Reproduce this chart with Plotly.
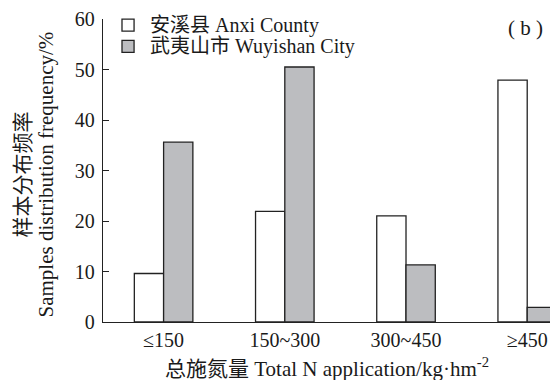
import plotly.graph_objects as go

# Nitrogen application classes (kg/hm²) and sample frequency (%) per region
categories = ["≤150", "150~300", "300~450", "≥450"]
anxi_freq = [9.6, 21.9, 21.0, 47.9]
wuyishan_freq = [35.6, 50.5, 11.3, 2.9]
series_names = ["安溪县 Anxi County", "武夷山市 Wuyishan City"]
series_fills = ["white", "#bcbdc0"]

FONT = "Liberation Serif, Times New Roman, Noto Sans CJK SC, serif"
LINE = "#222222"

fig = go.Figure()
for name, fill, vals in zip(series_names, series_fills, [anxi_freq, wuyishan_freq]):
    fig.add_trace(go.Bar(
        x=list(range(len(categories))), y=vals, name=name,
        marker=dict(color=fill, line=dict(color=LINE, width=1.3)),
        showlegend=False,
    ))

# Hand-placed legend: outlined squares with labels, top-left of the plot
legend_shapes = []
legend_notes = []
for i, (name, fill) in enumerate(zip(series_names, series_fills)):
    cy = 0.980 - i * 0.0705
    legend_shapes.append(dict(
        type="rect", xref="paper", yref="paper",
        x0=0.0425, x1=0.0695, y0=cy - 0.0198, y1=cy + 0.0198,
        fillcolor=fill, line=dict(color=LINE, width=1.3), layer="above",
    ))
    legend_notes.append(dict(
        text=name, xref="paper", yref="paper", x=0.1007, y=cy,
        xanchor="left", yanchor="middle", showarrow=False,
        font=dict(size=20),
    ))

fig.update_layout(
    width=550, height=380,
    margin=dict(l=103, r=0, t=19, b=58),
    paper_bgcolor="white", plot_bgcolor="white",
    font=dict(family=FONT, size=20, color="#1a1a1a"),
    barmode="group", bargap=0.517, bargroupgap=0,
    showlegend=False,
    xaxis=dict(
        range=[-0.5, 3.188],
        tickmode="array", tickvals=list(range(len(categories))), ticktext=categories,
        showline=True, linecolor=LINE, linewidth=1.3,
        ticks="", showgrid=False, zeroline=False,
        tickfont=dict(size=20),
    ),
    yaxis=dict(
        range=[0, 60], tickmode="linear", tick0=0, dtick=10,
        showline=True, linecolor=LINE, linewidth=1.3,
        ticks="inside", ticklen=6, tickcolor=LINE, tickwidth=1.3,
        ticklabelstandoff=3,
        showgrid=False, zeroline=False,
        tickfont=dict(size=20),
    ),
    shapes=legend_shapes,
    annotations=legend_notes + [
        dict(text="样本分布频率",
             xref="paper", yref="paper", x=0, y=0.5, xshift=-81, yshift=-4,
             xanchor="center", yanchor="middle", textangle=-90,
             showarrow=False, font=dict(size=21)),
        dict(text="Samples distribution frequency/%",
             xref="paper", yref="paper", x=0, y=0.5, xshift=-58, yshift=-4,
             xanchor="center", yanchor="middle", textangle=-90,
             showarrow=False, font=dict(size=21)),
        dict(text="总施氮量 Total N application/kg·hm<sup>-2</sup>",
             xref="paper", yref="paper", x=0.5, y=0, yshift=-45,
             xanchor="center", yanchor="middle",
             showarrow=False, font=dict(size=21)),
        dict(text="( b )", xref="paper", yref="paper", x=0.9888, y=0.9703,
             xanchor="right", yanchor="middle",
             showarrow=False, font=dict(size=21)),
    ],
)

fig.write_html("out.html")
